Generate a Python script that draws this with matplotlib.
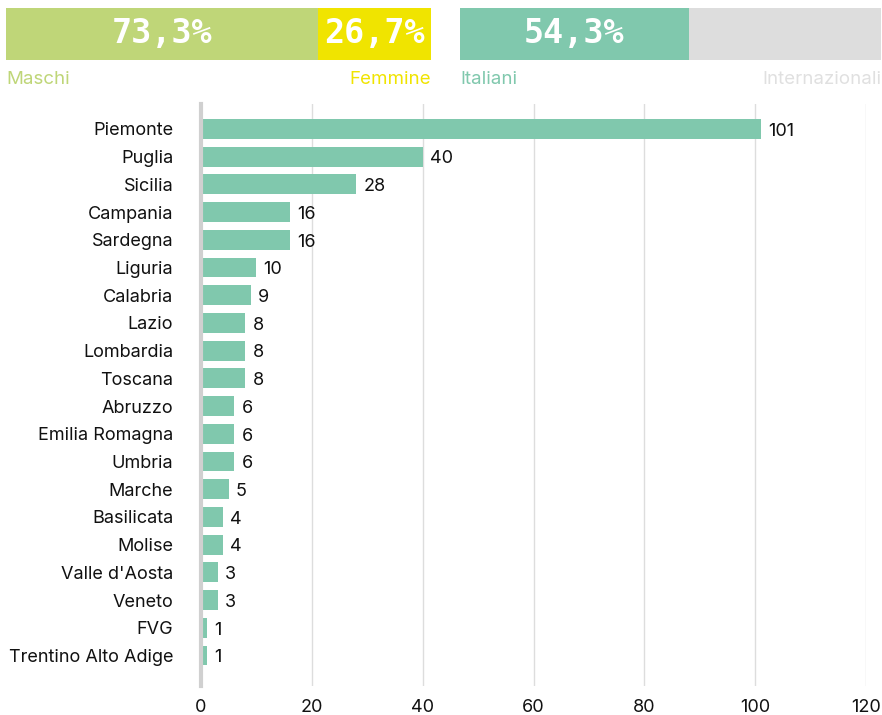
import matplotlib.pyplot as plt

plt.rcParams['font.family'] = ['Inter', 'DejaVu Sans']

# data
regions = ["Piemonte", "Puglia", "Sicilia", "Campania", "Sardegna", "Liguria",
           "Calabria", "Lazio", "Lombardia", "Toscana", "Abruzzo", "Emilia Romagna",
           "Umbria", "Marche", "Basilicata", "Molise", "Valle d'Aosta", "Veneto",
           "FVG", "Trentino Alto Adige"]
counts = [101, 40, 28, 16, 16, 10, 9, 8, 8, 8, 6, 6, 6, 5, 4, 4, 3, 3, 1, 1]

gender_labels = ["Maschi", "Femmine"]
gender_share = [73.3, 26.7]
origin_labels = ["Italiani", "Internazionali"]
origin_share = [54.3, 45.7]

green = "#80c8ad"
lime = "#bfd678"
yellow = "#f0e400"
grey = "#dadada"

fig = plt.figure(figsize=(8.82, 7.15), dpi=100)


def share_bar(rect, shares, labels, colors, label_colors, show):
    ax = fig.add_axes(rect)
    left = 0
    for i, s in enumerate(shares):
        ax.barh(0, s, left=left, height=1, color=colors[i])
        if show[i]:
            txt = f"{s:.1f}".replace(".", ",") + "%"
            ax.text(left + s / 2, 0, txt, ha="center", va="center",
                    color="white", fontsize=24, fontweight="bold",
                    family="DejaVu Sans Mono")
        left += s
    ax.set_xlim(0, 100)
    ax.set_ylim(-0.5, 0.5)
    ax.axis("off")
    ax.text(0, -0.37, labels[0], transform=ax.get_xaxis_transform(),
            ha="left", va="center", color=label_colors[0], fontsize=13.5)
    ax.text(100, -0.37, labels[1], transform=ax.get_xaxis_transform(),
            ha="right", va="center", color=label_colors[1], fontsize=13.5)


share_bar([6 / 882, 1 - 60 / 715, 425 / 882, 52 / 715], gender_share,
          gender_labels, [lime, yellow], [lime, yellow], [True, True])
share_bar([460 / 882, 1 - 60 / 715, 421 / 882, 52 / 715], origin_share,
          origin_labels, [green, "#dddddd"], [green, "#e0e0e0"], [True, False])

# main bar chart
ax = fig.add_axes([201 / 882, 1 - 686 / 715, 665 / 882, 582 / 715])
ypos = list(range(len(regions)))
ax.barh(ypos, counts, height=0.72, color=green, zorder=2)
for y, v in zip(ypos, counts):
    ax.text(v + 1.3, y + 0.08, str(v), va="center", ha="left", fontsize=13, color="#111111")

ax.set_xlim(0, 120)
ax.set_ylim(len(regions) - 1 + 1.1, -0.9)
ax.set_yticks(ypos)
ax.set_yticklabels(regions, fontsize=13, color="#111111")
ax.set_xticks([0, 20, 40, 60, 80, 100, 120])
ax.tick_params(axis="x", labelsize=13, colors="#111111", length=0, pad=9)
ax.tick_params(axis="y", length=0, pad=20)
ax.grid(axis="x", color="#dddddd", linewidth=1, zorder=0)
for s in ["top", "right", "bottom"]:
    ax.spines[s].set_visible(False)
ax.spines["left"].set_color("#d0d0d0")
ax.spines["left"].set_linewidth(3)
ax.spines["left"].set_zorder(3)

fig.savefig("out.png", dpi=100)
